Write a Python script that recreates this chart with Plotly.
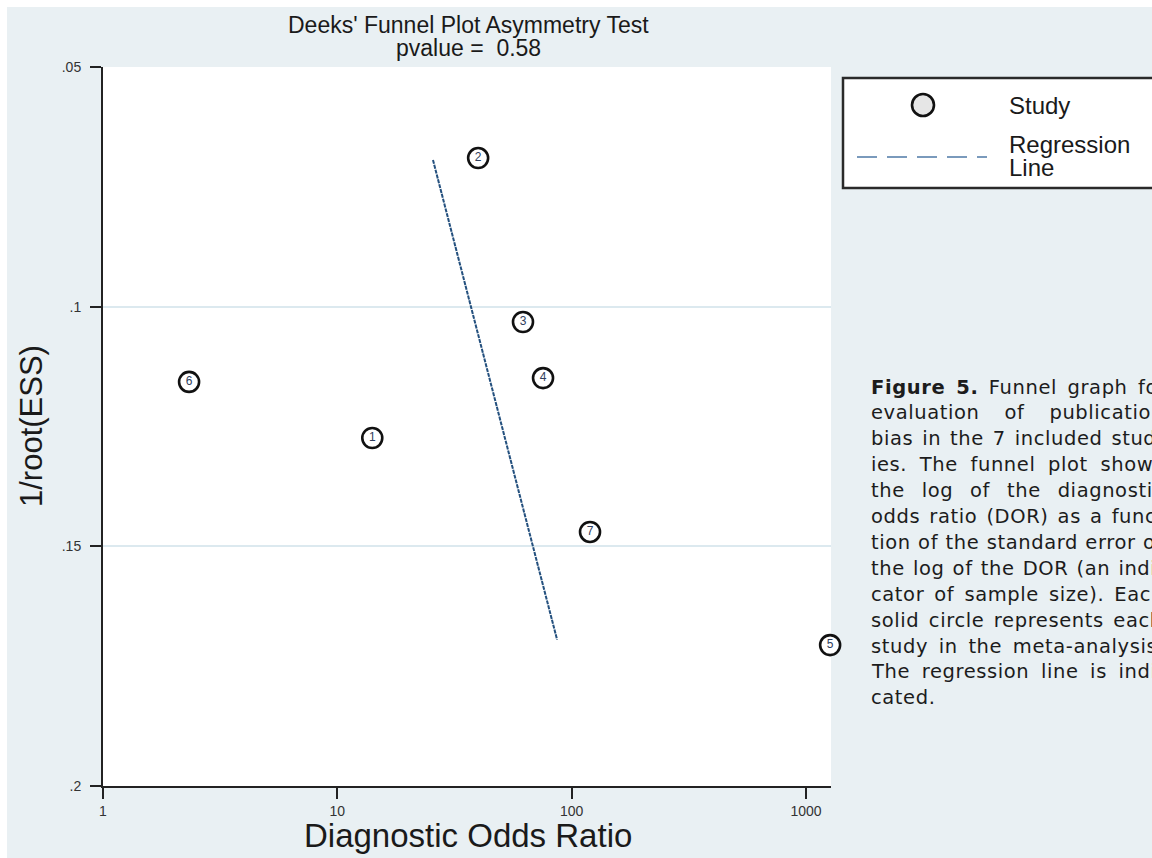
import math
import plotly.graph_objects as go

# ---- data -------------------------------------------------------------
study_ids = ["1", "2", "3", "4", "5", "6", "7"]
study_dor = [14.1, 39.9, 62.0, 75.5, 1268.0, 2.33, 119.8]
study_inv_root_ess = [0.1274, 0.0690, 0.1032, 0.1149, 0.1706, 0.1157, 0.1470]

reg_dor = [25.6, 86.7]
reg_inv_root_ess = [0.0694, 0.1695]

x_tick_vals = [1, 10, 100, 1000]
x_tick_text = ["1", "10", "100", "1000"]
y_tick_vals = [0.05, 0.10, 0.15, 0.20]
y_tick_text = [".05", ".1", ".15", ".2"]
x_range = [1, 1279]
y_range = [0.20, 0.05]

title_lines = ["Deeks' Funnel Plot Asymmetry Test", "pvalue =\u00a0 0.58"]

caption_bold = "Figure 5."
caption_lines = [
    " Funnel graph for",
    "evaluation of publication",
    "bias in the 7 included stud-",
    "ies. The funnel plot shows",
    "the log of the diagnostic",
    "odds ratio (DOR) as a func-",
    "tion of the standard error of",
    "the log of the DOR (an indi-",
    "cator of sample size). Each",
    "solid circle represents each",
    "study in the meta-analysis.",
    "The regression line is indi-",
    "cated.",
]

# ---- page geometry (pixels) --------------------------------------------
W, H = 1152, 858
PL, PT, PR, PB = 103, 67, 831, 786
PW, PH = PR - PL, PB - PT


def px(x):
    return (x - PL) / PW


def py(y):
    return (PB - y) / PH


BG = "#e9f0f3"
INK = "#1a1a1a"
SANS = "Liberation Sans, Arial, sans-serif"
CAP_FONT = "DejaVu Sans, Verdana, sans-serif"

fig = go.Figure()

fig.add_trace(go.Scatter(
    x=reg_dor, y=reg_inv_root_ess, mode="lines",
    line=dict(color="#24507e", width=2, dash="4px,1px"),
    showlegend=False, hoverinfo="skip",
))

fig.add_trace(go.Scatter(
    x=study_dor, y=study_inv_root_ess, mode="markers+text",
    text=study_ids, textposition="middle center",
    textfont=dict(family=SANS, size=12, color="#2e3d5c"),
    marker=dict(symbol="circle", size=20, color="white",
                line=dict(color="#111111", width=2.6)),
    cliponaxis=False, showlegend=False,
))

shapes = [
    # thin white strips along the top and left page edges
    dict(type="rect", xref="paper", yref="paper", layer="below",
         x0=px(-5), x1=px(W + 5), y0=py(7), y1=py(-5),
         fillcolor="white", line=dict(width=0)),
    dict(type="rect", xref="paper", yref="paper", layer="below",
         x0=px(-5), x1=px(7), y0=py(H + 5), y1=py(-5),
         fillcolor="white", line=dict(width=0)),
    # key box
    dict(type="rect", xref="paper", yref="paper", layer="above",
         x0=px(843), x1=px(1170), y0=py(188), y1=py(78),
         fillcolor="white", line=dict(color="#2a2a2a", width=2.5)),
    dict(type="circle", xref="paper", yref="paper", layer="above",
         x0=px(923 - 11), x1=px(923 + 11), y0=py(105 + 11), y1=py(105 - 11),
         fillcolor="#e6e6e6", line=dict(color="#111111", width=2.6)),
    dict(type="line", xref="paper", yref="paper", layer="above",
         x0=px(857), x1=px(987), y0=py(157), y1=py(157),
         line=dict(color="#4f79a6", width=1.6, dash="20px,10px")),
]

annotations = []


def note(text, x, y, size, xanchor="center", family=SANS, angle=0, color=INK):
    annotations.append(dict(
        text=text, x=px(x), y=py(y), xref="paper", yref="paper",
        xanchor=xanchor, yanchor="middle", showarrow=False, textangle=angle,
        font=dict(family=family, size=size, color=color),
    ))


note(title_lines[0], 468, 25, 23)
note(title_lines[1], 468, 48, 23)
note("Diagnostic Odds Ratio", 468, 835, 33)
note("1/root(ESS)", 31, 426, 31, angle=-90)

note("Study", 1007, 106, 24, xanchor="left")
note("Regression", 1007, 144, 24, xanchor="left")
note("Line", 1007, 167, 24, xanchor="left")

# caption: justified block, estimated with DejaVu Sans advance widths
ADV = {
    "a": 1255, "b": 1300, "c": 1126, "d": 1300, "e": 1260, "f": 721,
    "g": 1300, "h": 1298, "i": 569, "j": 569, "k": 1186, "l": 569,
    "m": 1995, "n": 1298, "o": 1253, "p": 1300, "q": 1300, "r": 842,
    "s": 1067, "t": 803, "u": 1298, "v": 1212, "w": 1675, "x": 1212,
    "y": 1212, "z": 1075, "D": 1577, "E": 1294, "F": 1178, "O": 1612,
    "R": 1423, "T": 1251, " ": 651, ".": 651, ",": 651, "(": 799,
    ")": 799, "-": 739,
}
CAP_SIZE = 19.5
CAP_LS = 0.6
CAP_X0, CAP_X1 = 869, 1162
CAP_Y0, CAP_DY = 387, 25.9


def text_width(s, bold=False):
    k = 1.1 if bold else 1.0
    return sum(ADV.get(ch, 1303) / 2048 * CAP_SIZE * k + CAP_LS for ch in s)


for i, line in enumerate(caption_lines):
    bold_part = caption_bold if i == 0 else ""
    natural = text_width(bold_part, bold=True) + text_width(line)
    spaces = (bold_part + line).count(" ")
    if i < len(caption_lines) - 1 and spaces:
        ws = (CAP_X1 - CAP_X0 - natural) / spaces
    else:
        ws = 0
    style = f"letter-spacing:{CAP_LS}px;word-spacing:{ws:.2f}px"
    if bold_part:
        body = f'<span style="{style}"><b>{bold_part}</b>{line}</span>'
    else:
        body = f'<span style="{style}">{line}</span>'
    note(body, CAP_X0, CAP_Y0 + i * CAP_DY, CAP_SIZE, xanchor="left",
         family=CAP_FONT, color="#1c1c1c")

axis_common = dict(
    showline=True, linecolor="#222222", linewidth=2,
    ticks="outside", ticklen=11, tickwidth=1.5, tickcolor="#222222",
    tickfont=dict(family=SANS, size=14, color="#333333"),
    zeroline=False, mirror=False,
)

fig.update_layout(
    width=W, height=H,
    margin=dict(l=PL, r=W - PR, t=PT, b=H - PB, pad=0),
    paper_bgcolor=BG, plot_bgcolor="white",
    showlegend=False,
    xaxis=dict(type="log", range=[math.log10(x_range[0]), math.log10(x_range[1])],
               tickvals=x_tick_vals, ticktext=x_tick_text, showgrid=False,
               ticklabelstandoff=0, **axis_common),
    yaxis=dict(range=y_range, tickvals=y_tick_vals, ticktext=y_tick_text,
               showgrid=True, gridcolor="#dce9ef", gridwidth=1.5,
               ticklabelstandoff=6, **axis_common),
    shapes=shapes,
    annotations=annotations,
)

fig.write_html("out.html")
